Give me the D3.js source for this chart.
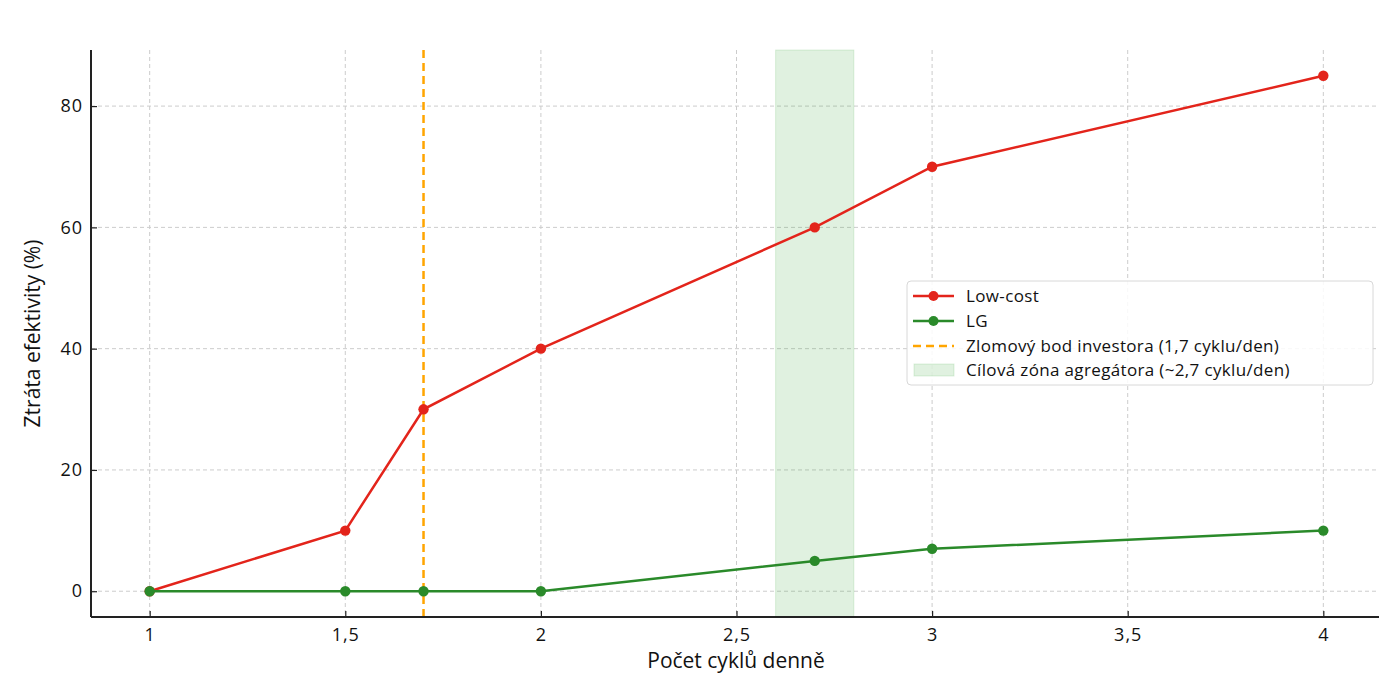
<!DOCTYPE html>
<html><head><meta charset="utf-8">
<script src="https://cdn.jsdelivr.net/npm/d3@7"></script>
<style>body{margin:0;background:#fff}svg{display:block}text{font-family:"Open Sans","Noto Sans",sans-serif;fill:#111}</style>
</head><body><svg id="c" width="1379" height="687"></svg>
<script>
const cycles = [1, 1.5, 1.7, 2, 2.7, 3, 4];
const lowCost = [0, 10, 30, 40, 60, 70, 85];
const lg = [0, 0, 0, 0, 5, 7, 10];
const xTicks = [1, 1.5, 2, 2.5, 3, 3.5, 4];
const yTicks = [0, 20, 40, 60, 80];
const breakPoint = 1.7;
const zone = [2.6, 2.8];
const legendLabels = ["Low-cost", "LG", "Zlomový bod investora (1,7 cyklu/den)", "Cílová zóna agregátora (~2,7 cyklu/den)"];

const svg = d3.select("#c");
const L = 91, R = 1382, T = 50, B = 617;
const x = d3.scaleLinear().domain([0.85, 4.15]).range([L, R]);
const y = d3.scaleLinear().domain([-4.25, 89.25]).range([B, T]);
const fmt = d => String(d).replace(".", ",");

// grid
const g = svg.append("g");
g.selectAll(".gx").data(xTicks).enter().append("line")
  .attr("x1", d => x(d)).attr("x2", d => x(d)).attr("y1", T).attr("y2", B)
  .attr("stroke", "#cccccc").attr("stroke-width", 1).attr("stroke-dasharray", "4,3");
g.selectAll(".gy").data(yTicks).enter().append("line")
  .attr("y1", d => y(d)).attr("y2", d => y(d)).attr("x1", L).attr("x2", R)
  .attr("stroke", "#cccccc").attr("stroke-width", 1).attr("stroke-dasharray", "4,3");

// zone
svg.append("rect").attr("x", x(zone[0])).attr("width", x(zone[1]) - x(zone[0]))
  .attr("y", T).attr("height", B - T).attr("fill", "#2ca02c").attr("fill-opacity", 0.15)
  .attr("stroke", "#2ca02c").attr("stroke-opacity", 0.15);

// break line
svg.append("line").attr("x1", x(breakPoint)).attr("x2", x(breakPoint)).attr("y1", T).attr("y2", B)
  .attr("stroke", "#ffa500").attr("stroke-width", 2.5).attr("stroke-dasharray", "8,5");

const line = d3.line().x(d => x(d[0])).y(d => y(d[1]));
function series(vals, color) {
  const pts = cycles.map((c, i) => [c, vals[i]]);
  svg.append("path").datum(pts).attr("d", line).attr("fill", "none")
    .attr("stroke", color).attr("stroke-width", 2.5);
  svg.append("g").selectAll("circle").data(pts).enter().append("circle")
    .attr("cx", d => x(d[0])).attr("cy", d => y(d[1])).attr("r", 5.2).attr("fill", color);
}
series(lowCost, "#e3241b");
series(lg, "#2a8a2a");

// axes (ticks point inward)
const xa = svg.append("g").attr("transform", `translate(0,${B})`)
  .call(d3.axisBottom(x).tickValues(xTicks).tickFormat(fmt).tickSize(-6).tickPadding(11));
const ya = svg.append("g").attr("transform", `translate(${L},0)`)
  .call(d3.axisLeft(y).tickValues(yTicks).tickSize(-6).tickPadding(8));
[xa, ya].forEach(a => {
  a.select(".domain").remove();
  a.selectAll("line").attr("stroke", "#222").attr("stroke-width", 1.2);
  a.selectAll("text").style("font-size", "18px").style("letter-spacing", "1px").attr("fill", "#111");
});
svg.append("line").attr("x1", L).attr("x2", L).attr("y1", T).attr("y2", B).attr("stroke", "#222").attr("stroke-width", 2);
svg.append("line").attr("x1", L).attr("x2", 1379).attr("y1", B).attr("y2", B).attr("stroke", "#222").attr("stroke-width", 2);

svg.append("text").attr("x", 736).attr("y", 668).attr("text-anchor", "middle")
  .style("font-size", "21px").text("Počet cyklů denně");
svg.append("text").attr("transform", `translate(40,${(T + B) / 2}) rotate(-90)`).attr("text-anchor", "middle")
  .style("font-size", "21px").text("Ztráta efektivity (%)");

// legend
const lg0 = svg.append("g").attr("transform", "translate(907,281)");
lg0.append("rect").attr("width", 466).attr("height", 104).attr("rx", 4)
  .attr("fill", "#fff").attr("fill-opacity", 0.85).attr("stroke", "#d8d8d8");
const rows = [15, 40, 65, 89];
const colors = ["#e3241b", "#2a8a2a", "#ffa500", null];
legendLabels.forEach((t, i) => {
  const yy = rows[i];
  if (i < 2) {
    lg0.append("line").attr("x1", 6).attr("x2", 47).attr("y1", yy).attr("y2", yy).attr("stroke", colors[i]).attr("stroke-width", 2.5);
    lg0.append("circle").attr("cx", 26.5).attr("cy", yy).attr("r", 5).attr("fill", colors[i]);
  } else if (i === 2) {
    lg0.append("line").attr("x1", 6).attr("x2", 47).attr("y1", yy).attr("y2", yy).attr("stroke", colors[i]).attr("stroke-width", 2.5).attr("stroke-dasharray", "8,5");
  } else {
    lg0.append("rect").attr("x", 7).attr("y", yy - 6).attr("width", 40).attr("height", 12)
      .attr("fill", "#2ca02c").attr("fill-opacity", 0.15).attr("stroke", "#2ca02c").attr("stroke-opacity", 0.15);
  }
  lg0.append("text").attr("x", 59).attr("y", yy).attr("dy", "0.35em").style("font-size", "17px")
    .style("letter-spacing", "0.35px").text(t);
});
</script></body></html>
